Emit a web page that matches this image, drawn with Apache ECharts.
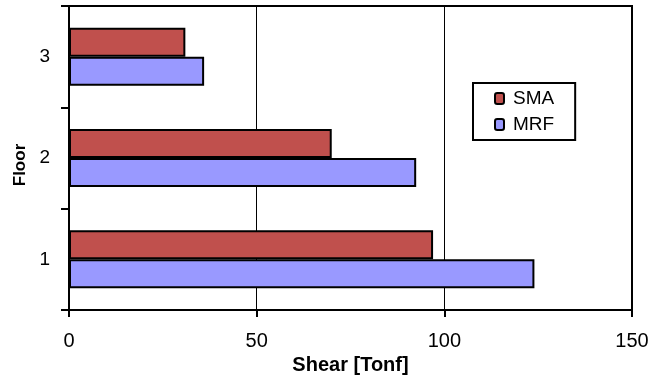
<!DOCTYPE html>
<html>
<head>
<meta charset="utf-8">
<script src="https://cdn.jsdelivr.net/npm/echarts@6/dist/echarts.min.js"></script>
<style>
  html, body { margin: 0; padding: 0; background: #fff; }
  #chart { width: 652px; height: 376px; }
</style>
</head>
<body>
<div id="chart"></div>
<script>
// Storey shear per floor for the two frame systems
const floors = ['1', '2', '3'];
const smaShear = [97, 70, 31];
const mrfShear = [124, 92.5, 36];
const xTicks = [0, 50, 100, 150];

const FONT = '"Liberation Sans", Arial, sans-serif';
const chart = echarts.init(document.getElementById('chart'));

chart.setOption({
  animation: false,
  backgroundColor: '#fff',
  grid: {
    left: 69, right: 20, top: 6, bottom: 66,
    outerBoundsMode: 'none', containLabel: false,
    show: true, borderColor: '#000', borderWidth: 2
  },
  legend: {
    data: ['SMA', 'MRF'],
    orient: 'vertical',
    left: 473, top: 83,
    padding: [6, 21, 6, 21],
    itemGap: 7,
    itemWidth: 9, itemHeight: 11,
    borderColor: '#000', borderWidth: 2,
    backgroundColor: '#fff',
    textStyle: { fontFamily: FONT, fontSize: 19, color: '#000', padding: [0, 0, 0, 4] }
  },
  xAxis: {
    type: 'value',
    min: xTicks[0], max: xTicks[xTicks.length - 1], interval: 50,
    name: 'Shear [Tonf]',
    nameLocation: 'middle',
    nameGap: 37,
    nameTextStyle: { fontFamily: FONT, fontSize: 20, fontWeight: 'bold', color: '#000' },
    axisLine: { show: true, lineStyle: { color: '#000', width: 2 } },
    axisTick: { show: true, length: 7, lineStyle: { color: '#000', width: 2 } },
    axisLabel: { fontFamily: FONT, fontSize: 20, color: '#000', margin: 21 },
    splitLine: { show: true, lineStyle: { color: '#000', width: 1 } }
  },
  yAxis: {
    type: 'category',
    data: floors,
    name: 'Floor',
    nameLocation: 'middle',
    nameGap: 35,
    nameTextStyle: { fontFamily: FONT, fontSize: 17, fontWeight: 'bold', color: '#000', padding: [0, 14, 0, 0] },
    axisLine: { show: true, lineStyle: { color: '#000', width: 2 } },
    axisTick: { show: true, length: 8, lineStyle: { color: '#000', width: 2 } },
    axisLabel: { fontFamily: FONT, fontSize: 19, color: '#000', margin: 19, padding: [10, 0, 0, 0] },
    splitLine: { show: false }
  },
  series: [
    {
      name: 'SMA', type: 'bar', data: smaShear,
      barWidth: 29, barGap: '0%', barCategoryGap: '42%',
      itemStyle: { color: '#C0504D', borderColor: '#000', borderWidth: 2 }
    },
    {
      name: 'MRF', type: 'bar', data: mrfShear,
      barWidth: 29, barGap: '0%',
      itemStyle: { color: '#9999FF', borderColor: '#000', borderWidth: 2 }
    }
  ]
});
</script>
</body>
</html>
